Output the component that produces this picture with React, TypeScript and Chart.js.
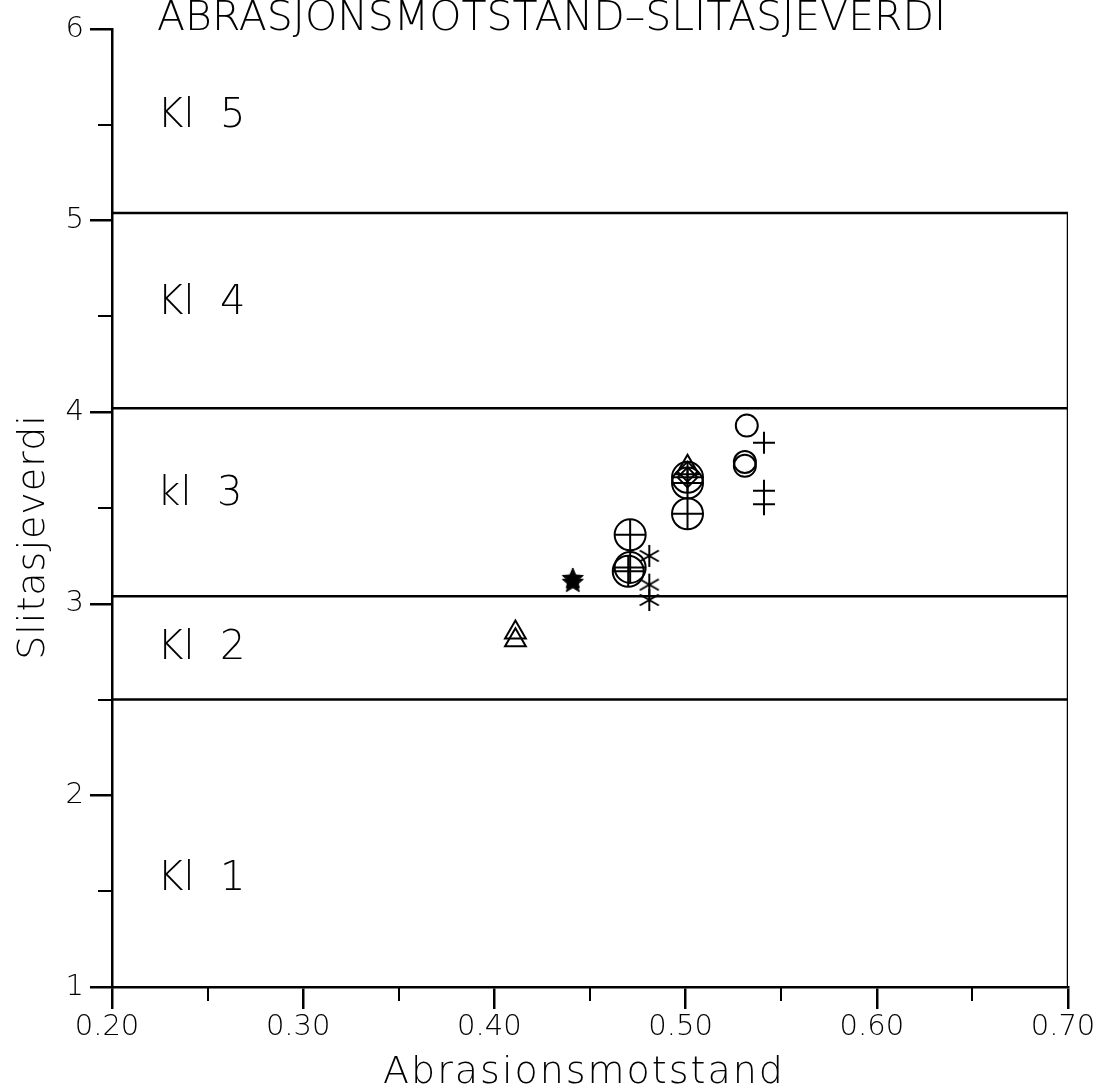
import React, { useEffect, useRef } from 'react';
import { Chart, registerables } from 'chart.js';

Chart.register(...registerables);

// ---- axes ----
const X_MIN = 0.2;
const X_MAX = 0.7;
const Y_MIN = 1;
const Y_MAX = 6;
const xMinorTicks = [0.25, 0.35, 0.45, 0.55, 0.65];
const yMinorTicks = [1.5, 2.5, 3.5, 4.5, 5.5];

// ---- class boundaries ----
const classLines = [5.04, 4.02, 3.04, 2.5];
const classTopValue = 5.04;
const classLabels = ['Kl  5', 'Kl  4', 'kl  3', 'Kl  2', 'Kl  1'];
const classLabelY = [5.565, 4.59, 3.59, 2.79, 1.58];
const classLabelX = 0.2237;

// ---- texts ----
const titleText = 'ABRASJONSMOTSTAND–SLITASJEVERDI';
const xTitle = 'Abrasionsmotstand';
const yTitle = 'Slitasjeverdi';

// ---- series ----
const triangleX = [0.411, 0.411];
const triangleY = [2.85, 2.81];
const starX = [0.441, 0.441];
const starY = [3.13, 3.11];
const circlePlusX = [0.471, 0.471, 0.47, 0.501, 0.501, 0.501];
const circlePlusY = [3.36, 3.19, 3.17, 3.66, 3.63, 3.47];
const asteriskX = [0.481, 0.481, 0.481];
const asteriskY = [3.25, 3.1, 3.02];
const diamondX = [0.501, 0.501];
const diamondY = [3.69, 3.66];
const smallTriangleX = [0.501];
const smallTriangleY = [3.71];
const circleX = [0.532, 0.531, 0.531];
const circleY = [3.93, 3.74, 3.72];
const plusX = [0.541, 0.541, 0.541];
const plusY = [3.84, 3.59, 3.52];

const FONT = '"DejaVu Sans", sans-serif';
const WEIGHT = 200;

function pts(xs: number[], ys: number[]) {
  return xs.map((x, i) => ({ x, y: ys[i] }));
}

function makeStar(r: number) {
  const c = document.createElement('canvas');
  const s = Math.ceil(2 * r + 4);
  c.width = s;
  c.height = s;
  const g = c.getContext('2d')!;
  const cx = s / 2, cy = s / 2;
  g.beginPath();
  for (let i = 0; i < 10; i++) {
    const a = -Math.PI / 2 + (i * Math.PI) / 5;
    const rr = i % 2 === 0 ? r : r * 0.45;
    const px = cx + rr * Math.cos(a);
    const py = cy + rr * Math.sin(a);
    if (i === 0) g.moveTo(px, py);
    else g.lineTo(px, py);
  }
  g.closePath();
  g.fillStyle = '#000';
  g.fill();
  g.strokeStyle = '#000';
  g.lineWidth = 1;
  g.stroke();
  return c;
}

function makeAsterisk(r: number) {
  const c = document.createElement('canvas');
  const s = Math.ceil(2 * r + 4);
  c.width = s;
  c.height = s;
  const g = c.getContext('2d')!;
  const cx = s / 2, cy = s / 2;
  g.strokeStyle = '#000';
  g.lineWidth = 2;
  g.lineCap = 'butt';
  [90, 30, 150].forEach((deg) => {
    const a = (deg * Math.PI) / 180;
    g.beginPath();
    g.moveTo(cx - r * Math.cos(a), cy - r * Math.sin(a));
    g.lineTo(cx + r * Math.cos(a), cy + r * Math.sin(a));
    g.stroke();
  });
  return c;
}

const decorPlugin = {
  id: 'decor',
  afterDraw(chart: any) {
    const { ctx, scales, chartArea } = chart;
    const xs = scales.x;
    const ys = scales.y;
    ctx.save();
    ctx.strokeStyle = '#000';
    ctx.lineWidth = 2;
    // minor ticks
    xMinorTicks.forEach((v) => {
      const px = Math.round(xs.getPixelForValue(v));
      ctx.beginPath();
      ctx.moveTo(px, chartArea.bottom);
      ctx.lineTo(px, chartArea.bottom + 14);
      ctx.stroke();
    });
    yMinorTicks.forEach((v) => {
      const py = Math.round(ys.getPixelForValue(v));
      ctx.beginPath();
      ctx.moveTo(chartArea.left - 14, py);
      ctx.lineTo(chartArea.left, py);
      ctx.stroke();
    });
    ctx.fillStyle = '#000';
    // class labels
    ctx.font = `${WEIGHT} 40px ${FONT}`;
    ctx.textAlign = 'left';
    ctx.textBaseline = 'alphabetic';
    classLabels.forEach((t, i) => {
      const px = xs.getPixelForValue(classLabelX);
      const py = ys.getPixelForValue(classLabelY[i]);
      ctx.fillText(t, px, py + 14.5);
    });
    // title
    ctx.font = `${WEIGHT} 41px ${FONT}`;
    ctx.fillText(titleText, 157, 30);
    // x title
    ctx.font = `${WEIGHT} 38px ${FONT}`;
    (ctx as any).letterSpacing = '2px';
    ctx.textAlign = 'center';
    ctx.fillText(xTitle, (xs.left + xs.right) / 2 - 6, 1083);
    // y title
    (ctx as any).letterSpacing = '1px';
    ctx.translate(44, (chartArea.top + chartArea.bottom) / 2 + 29);
    ctx.rotate(-Math.PI / 2);
    ctx.fillText(yTitle, 0, 0);
    ctx.restore();
  },
};

export default function App() {
  const ref = useRef<HTMLCanvasElement | null>(null);
  useEffect(() => {
    if (!ref.current) return;
    const star = makeStar(11);
    const asterisk = makeAsterisk(11);
    const lineDs = (data: any[]) => ({
      type: 'line' as const,
      data,
      borderColor: '#000',
      borderWidth: 2.5,
      pointRadius: 0,
      showLine: true,
      fill: false,
    });
    const markDs = (data: any[], style: any, radius: number, extra: any = {}) => ({
      type: 'scatter' as const,
      data,
      pointStyle: style,
      pointRadius: radius,
      borderColor: '#000',
      backgroundColor: 'rgba(0,0,0,0)',
      pointBorderWidth: 2,
      borderWidth: 2,
      ...extra,
    });
    const datasets: any[] = [
      ...classLines.map((v) => lineDs([{ x: X_MIN, y: v }, { x: X_MAX, y: v }])),
      lineDs([{ x: X_MAX, y: Y_MIN }, { x: X_MAX, y: classTopValue }]),
      markDs(pts(triangleX, triangleY), 'triangle', 12),
      markDs(pts(starX, starY), star, 11),
      markDs(pts(circlePlusX, circlePlusY), 'circle', 15.5),
      markDs(pts(circlePlusX, circlePlusY), 'cross', 15.5),
      markDs(pts(asteriskX, asteriskY), asterisk, 11),
      markDs(pts(diamondX, diamondY), 'rectRot', 10),
      markDs(pts(smallTriangleX, smallTriangleY), 'triangle', 13),
      markDs(pts(circleX, circleY), 'circle', 11),
      markDs(pts(plusX, plusY), 'cross', 11),
    ];
    const chart = new Chart(ref.current, {
      type: 'scatter',
      data: { datasets },
      options: {
        responsive: false,
        animation: false,
        devicePixelRatio: 1,
        layout: { padding: { top: 29, right: 31, left: 0, bottom: 0 } },
        plugins: { legend: { display: false }, tooltip: { enabled: false }, title: { display: false } },
        scales: {
          x: {
            type: 'linear',
            min: X_MIN,
            max: X_MAX,
            afterFit: (s: any) => { s.height = 102; s.paddingLeft = 0; s.paddingRight = 0; },
            ticks: {
              stepSize: 0.1,
              color: '#000',
              padding: 1,
              font: { family: FONT, size: 29, weight: WEIGHT },
              callback: (v: any) => Number(v).toFixed(2),
              maxRotation: 0,
              labelOffset: -5,
            },
            grid: { drawOnChartArea: false, drawTicks: true, tickLength: 22, color: '#000', lineWidth: 2.5 },
            border: { color: '#000', width: 2.5 },
          },
          y: {
            type: 'linear',
            min: Y_MIN,
            max: Y_MAX,
            afterFit: (s: any) => { s.width = 112; s.paddingTop = 0; s.paddingBottom = 0; },
            ticks: {
              stepSize: 1,
              color: '#000',
              padding: 6,
              font: { family: FONT, size: 29, weight: WEIGHT },
              callback: (v: any) => String(v),
            },
            grid: { drawOnChartArea: false, drawTicks: true, tickLength: 22, color: '#000', lineWidth: 2.5 },
            border: { color: '#000', width: 2.5 },
          },
        },
      } as any,
      plugins: [decorPlugin],
    });
    return () => chart.destroy();
  }, []);
  return (
    <div style={{ position: 'absolute', left: 0, top: 0, width: 1099, height: 1089, background: '#fff' }}>
      <canvas ref={ref} width={1099} height={1089} style={{ display: 'block' }} />
    </div>
  );
}
